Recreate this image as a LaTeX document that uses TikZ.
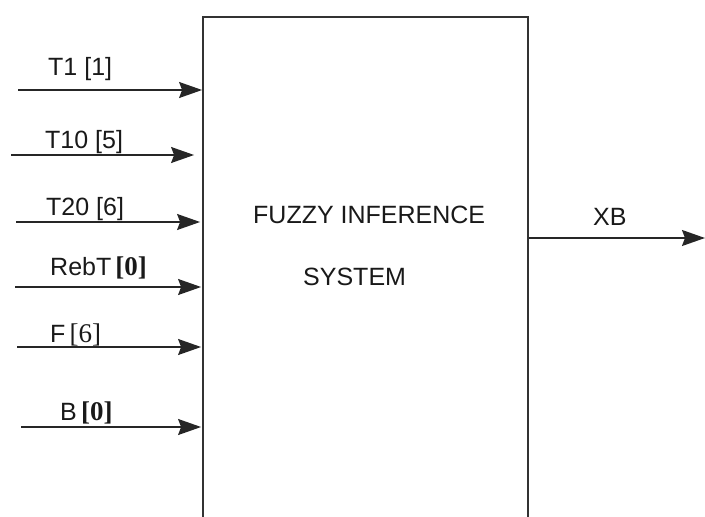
\documentclass[tikz,border=0pt]{standalone}
\usepackage{fontspec}
\setmainfont{Liberation Sans}
\newfontfamily\serifnum{Liberation Serif}
\usetikzlibrary{arrows.meta}
\begin{document}
\begin{tikzpicture}[x=1pt,y=-1pt,
  lbl/.style={anchor=base west,inner sep=0pt,font=\fontsize{25}{28}\selectfont,text=black!90},
  inarrow/.style={line width=1.6pt,draw=black!85,-{Stealth[length=23pt,width=16pt,inset=3pt]}},
  fisbox/.style={draw=black!80,line width=1.8pt,minimum width=325pt,minimum height=540pt,inner sep=0pt}]
\useasboundingbox (0,0) rectangle (705,517);
\node[fisbox] (box) at (365.5,287) {};
% input start points
\coordinate (s1) at (18,90);
\coordinate (s2) at (11,155);
\coordinate (s3) at (16,222);
\coordinate (s4) at (15,287);
\coordinate (s5) at (17,347);
\coordinate (s6) at (21,427);
\coordinate (xe) at (705,238);
% arrows
\draw[inarrow] (s1) -- (s1 -| box.west);
\draw[inarrow,shorten >=8pt] (s2) -- (s2 -| box.west);
\draw[inarrow,shorten >=2pt] (s3) -- (s3 -| box.west);
\draw[inarrow,shorten >=1pt] (s4) -- (s4 -| box.west);
\draw[inarrow,shorten >=1pt] (s5) -- (s5 -| box.west);
\draw[inarrow,shorten >=1pt] (s6) -- (s6 -| box.west);
\draw[inarrow] (xe -| box.east) -- (xe);
% labels
\node[lbl] (l1) at (48,75) {T1 [1]};
\node[lbl] (l2) at (45,148) {T10 [5]};
\node[lbl] (l3) at (46,215) {T20 [6]};
\node[lbl] (l4) at (50,275) {RebT\,{\serifnum\bfseries\fontsize{27}{30}\selectfont [0]}};
\node[lbl] (l5) at (50,342) {F\,{\serifnum\fontsize{27}{30}\selectfont [6]}};
\node[lbl] (l6) at (60,420) {B\,{\serifnum\bfseries\fontsize{27}{30}\selectfont [0]}};
\node[lbl] (lxb) at (593,225) {XB};
\node[lbl] (t1) at (253,223) {FUZZY INFERENCE};
\node[lbl] (t2) at (303,285) {SYSTEM};
\end{tikzpicture}
\end{document}
